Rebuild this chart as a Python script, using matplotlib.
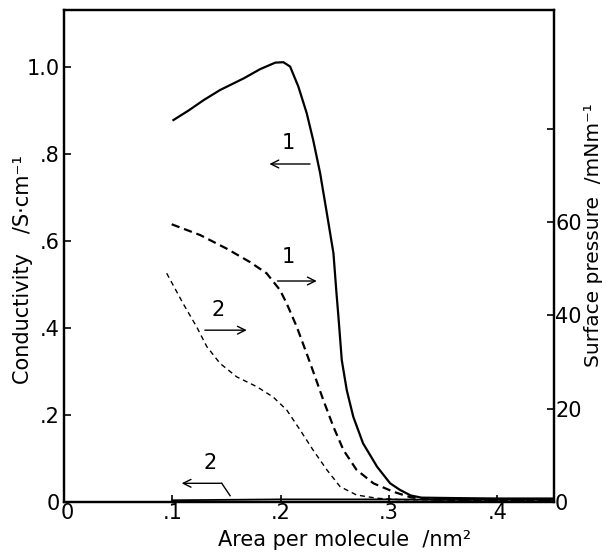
import matplotlib
matplotlib.use("Agg")
import matplotlib.pyplot as plt
import matplotlib.transforms as mtransforms

plt.rcParams['lines.scale_dashes'] = False
plt.rcParams['font.family'] = ['DejaVu Sans']

# Curve 1: conductivity (left axis, solid)
area_c1 = [0.101, 0.115, 0.129, 0.144, 0.166, 0.181, 0.195, 0.2025, 0.2087, 0.2163,
           0.224, 0.230, 0.2364, 0.2426, 0.2487, 0.2515, 0.2533, 0.2564, 0.261, 0.267,
           0.276, 0.289, 0.301, 0.310, 0.320, 0.330, 0.360, 0.400, 0.452]
cond_1 = [0.878, 0.900, 0.924, 0.947, 0.974, 0.995, 1.010, 1.011, 1.001, 0.955,
          0.894, 0.832, 0.756, 0.664, 0.572, 0.480, 0.426, 0.326, 0.257, 0.196,
          0.135, 0.081, 0.043, 0.028, 0.015, 0.010, 0.009, 0.008, 0.008]

# Curve 2: conductivity (left axis, solid, near zero)
area_c2 = [0.100, 0.150, 0.200, 0.250, 0.300, 0.350, 0.400, 0.452]
cond_2 = [0.004, 0.005, 0.006, 0.006, 0.006, 0.005, 0.005, 0.005]

# Curve 1: surface pressure (right axis, thick dashed)
area_p1 = [0.0994, 0.1256, 0.150, 0.1717, 0.187, 0.1994, 0.2056, 0.2149, 0.224, 0.2318,
           0.2394, 0.2487, 0.258, 0.270, 0.2856, 0.304, 0.320, 0.340, 0.452]
press_1 = [59.5, 57.2, 54.3, 51.4, 49.0, 45.4, 42.5, 37.5, 31.8, 26.8,
           21.8, 16.1, 11.1, 6.9, 4.0, 2.2, 1.0, 0.5, 0.3]

# Curve 2: surface pressure (right axis, thin dashed)
area_p2 = [0.0948, 0.110, 0.1225, 0.1318, 0.144, 0.1595, 0.178, 0.193, 0.2056, 0.218,
           0.230, 0.2426, 0.2548, 0.270, 0.289, 0.310, 0.452]
press_2 = [49.0, 42.5, 37.5, 33.3, 29.7, 26.8, 24.7, 22.5, 19.7, 15.4,
           11.1, 6.9, 3.3, 1.5, 0.8, 0.5, 0.3]

x_ticks = [0, 0.1, 0.2, 0.3, 0.4]
x_labels = ['0', '.1', '.2', '.3', '.4']
yl_ticks = [0, 0.2, 0.4, 0.6, 0.8, 1.0]
yl_labels = ['0', '.2', '.4', '.6', '.8', '1.0']
yr_ticks = [0, 20, 40, 60, 80]
yr_labels = ['0', '20', '40', '60', '']

fig = plt.figure(figsize=(6.07, 5.52), dpi=100)
ax = fig.add_axes([64/607, 1-502/552, (553.7-64)/607, (502-10)/552])
ax2 = ax.twinx()

ax.set_xlim(0, 0.452)
ax.set_ylim(0, 1.131)
ax2.set_ylim(0, 1.131 * 93.2)

ax.plot(area_c1, cond_1, color='black', lw=1.6)
ax.plot(area_c2, cond_2, color='black', lw=1.3)
l1, = ax2.plot(area_p1, press_1, color='black', lw=1.6)
l1.set_dashes((6, 3.5))
l2, = ax2.plot(area_p2, press_2, color='black', lw=1.0)
l2.set_dashes((3.6, 2.8))

fs = 15
ax.set_xticks(x_ticks)
ax.set_xticklabels(x_labels)
ax.set_yticks(yl_ticks)
ax.set_yticklabels(yl_labels)
ax2.set_yticks(yr_ticks)
ax2.set_yticklabels(yr_labels)
ax.tick_params(axis='x', direction='in', length=5, width=1.2, labelsize=fs, pad=1)
ax.tick_params(axis='y', direction='in', length=5, width=1.2, labelsize=fs, pad=3)
ax2.tick_params(axis='y', direction='in', length=5, width=1.2, labelsize=fs, pad=1)

# nudge the x "0" label right so it does not collide with the y "0"
lab0 = ax.get_xticklabels()[0]
lab0.set_transform(lab0.get_transform() +
                   mtransforms.ScaledTranslation(3/100, 0, fig.dpi_scale_trans))

for a in (ax, ax2):
    for s in a.spines.values():
        s.set_linewidth(1.6)

fig.text(0.567, 0.022, 'Area per molecule  /nm²', ha='center', va='center', fontsize=15)
fig.text(0.038, 0.511, 'Conductivity   /S·cm⁻¹', ha='center', va='center',
         rotation=90, fontsize=15)
fig.text(0.978, 0.574, 'Surface pressure  /mNm⁻¹', ha='center', va='center',
         rotation=90, fontsize=14.5)

arrow = dict(arrowstyle='->', color='black', lw=1.0, shrinkA=0, shrinkB=0,
             mutation_scale=14)
# label 1, left arrow
ax.text(0.207, 0.825, '1', fontsize=fs, ha='center', va='center')
ax.annotate('', xy=(0.1896, 0.777), xytext=(0.2271, 0.777), arrowprops=arrow)
# label 1, right arrow
ax.text(0.207, 0.564, '1', fontsize=fs, ha='center', va='center')
ax.annotate('', xy=(0.2333, 0.508), xytext=(0.197, 0.508), arrowprops=arrow)
# label 2, right arrow
ax.text(0.1425, 0.441, '2', fontsize=fs, ha='center', va='center')
ax.annotate('', xy=(0.1687, 0.395), xytext=(0.130, 0.395), arrowprops=arrow)
# label 2, left bent arrow
ax.text(0.1348, 0.089, '2', fontsize=fs, ha='center', va='center')
ax.plot([0.1533, 0.1456], [0.0145, 0.043], color='black', lw=1.0)
ax.annotate('', xy=(0.1086, 0.043), xytext=(0.1456, 0.043), arrowprops=arrow)

fig.savefig('out.png', dpi=100)
